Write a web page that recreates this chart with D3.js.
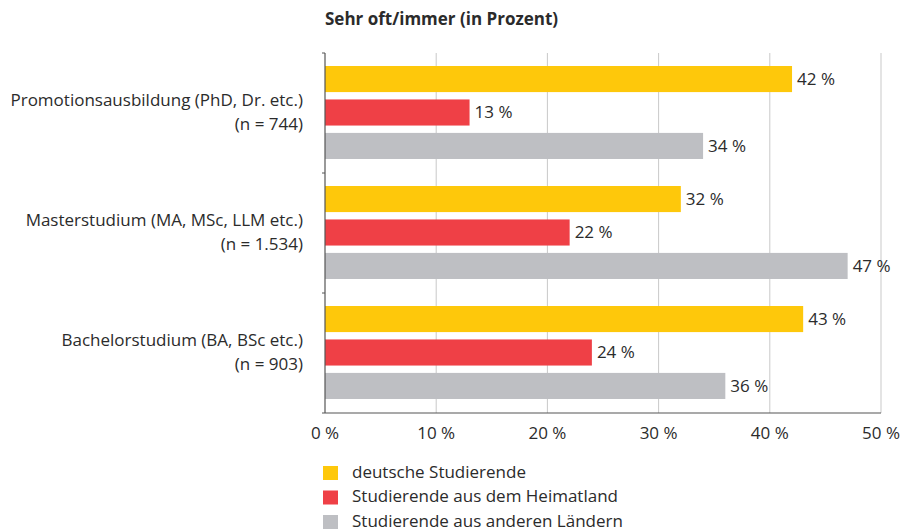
<!DOCTYPE html>
<html>
<head>
<meta charset="utf-8">
<script src="https://cdn.jsdelivr.net/npm/d3@7"></script>
<style>
  body { margin: 0; background: #fff; }
  text { font-family: "Open Sans", "Noto Sans", sans-serif; fill: #2b2b2b; }
</style>
</head>
<body>
<svg id="chart" width="901" height="529"></svg>
<script>
var categories = [
  ['Promotionsausbildung (PhD, Dr. etc.)', '(n = 744)'],
  ['Masterstudium (MA, MSc, LLM etc.)', '(n = 1.534)'],
  ['Bachelorstudium (BA, BSc etc.)', '(n = 903)']
];
var seriesNames = ['deutsche Studierende', 'Studierende aus dem Heimatland', 'Studierende aus anderen Ländern'];
var deutsche = [42, 32, 43];
var heimatland = [13, 22, 24];
var andere = [34, 47, 36];
var ticks = [0, 10, 20, 30, 40, 50];
var colors = ['#fec80b', '#ef4046', '#bebfc3'];

var svg = d3.select('#chart');
var plotLeft = 325, plotRight = 881, plotTop = 53, plotBottom = 413;

var x = d3.scaleLinear().domain([0, 50]).range([plotLeft, plotRight]);
var y = d3.scaleBand().domain(d3.range(categories.length)).range([plotTop, plotBottom]);
var inner = d3.scaleBand().domain(d3.range(3)).range([13, 106]).paddingInner(0.22);

// gridlines
svg.selectAll('.grid')
  .data(ticks.slice(1))
  .enter().append('line')
  .attr('x1', function (d) { return x(d); })
  .attr('x2', function (d) { return x(d); })
  .attr('y1', plotTop)
  .attr('y2', plotBottom)
  .attr('stroke', '#c9c9c9')
  .attr('stroke-width', 1);

var series = [deutsche, heimatland, andere];
series.forEach(function (vals, s) {
  svg.selectAll('.bar' + s)
    .data(vals)
    .enter().append('rect')
    .attr('x', x(0))
    .attr('y', function (d, i) { return y(i) + inner(s); })
    .attr('width', function (d) { return x(d) - x(0); })
    .attr('height', inner.bandwidth())
    .attr('fill', colors[s]);

  svg.selectAll('.val' + s)
    .data(vals)
    .enter().append('text')
    .attr('x', function (d) { return x(d) + 5; })
    .attr('y', function (d, i) { return y(i) + inner(s) + inner.bandwidth() / 2; })
    .attr('dy', '0.35em')
    .attr('font-size', 17)
    .text(function (d) { return d + ' %'; });
});

// axes
svg.append('line')
  .attr('x1', plotLeft).attr('x2', plotLeft).attr('y1', plotTop).attr('y2', plotBottom)
  .attr('stroke', '#555').attr('stroke-width', 1.2);
svg.append('line')
  .attr('x1', plotLeft).attr('x2', plotRight).attr('y1', plotBottom).attr('y2', plotBottom)
  .attr('stroke', '#555').attr('stroke-width', 1.2);
svg.selectAll('.ytick')
  .data(d3.range(categories.length + 1))
  .enter().append('line')
  .attr('x1', plotLeft - 3).attr('x2', plotLeft)
  .attr('y1', function (d) { return plotTop + d * y.step(); })
  .attr('y2', function (d) { return plotTop + d * y.step(); })
  .attr('stroke', '#555');

svg.selectAll('.xlab')
  .data(ticks)
  .enter().append('text')
  .attr('x', function (d) { return x(d); })
  .attr('y', 439)
  .attr('text-anchor', 'middle')
  .attr('font-size', 17)
  .text(function (d) { return d + ' %'; });

// category labels
var cat = svg.selectAll('.cat')
  .data(categories)
  .enter().append('text')
  .attr('x', 303)
  .attr('y', function (d, i) { return y(i) + y.bandwidth() / 2 - 7; })
  .attr('text-anchor', 'end')
  .attr('font-size', 17);
cat.append('tspan').attr('x', 303).text(function (d) { return d[0]; });
cat.append('tspan').attr('x', 303).attr('dy', 24).text(function (d) { return d[1]; });

// title
svg.append('text')
  .attr('x', 325).attr('y', 25)
  .attr('font-size', 17).attr('font-weight', 'bold')
  .text('Sehr oft/immer (in Prozent)');

// legend
var leg = svg.selectAll('.leg')
  .data(seriesNames)
  .enter().append('g')
  .attr('transform', function (d, i) { return 'translate(323,' + (466 + i * 24.5) + ')'; });
leg.append('rect').attr('width', 15).attr('height', 14)
  .attr('fill', function (d, i) { return colors[i]; });
leg.append('text').attr('x', 29).attr('y', 6).attr('dy', '0.35em')
  .attr('font-size', 17).text(function (d) { return d; });
</script>
</body>
</html>
